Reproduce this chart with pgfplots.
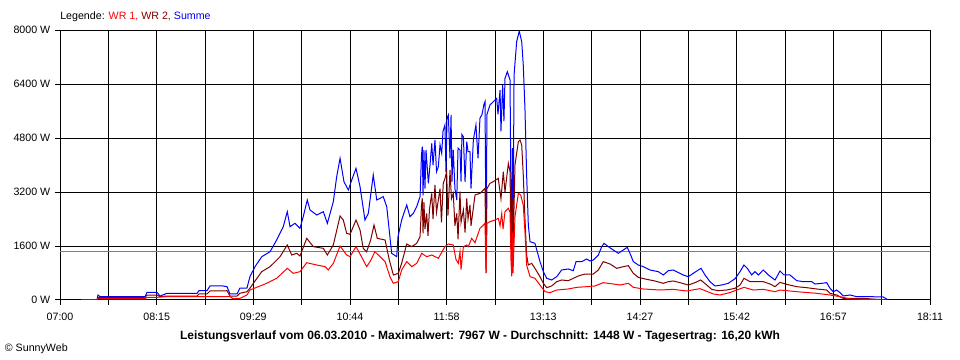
\documentclass[border=0pt]{standalone}
\usepackage{fontspec}
\setmainfont{Liberation Sans}
\usepackage{pgfplots}
\pgfplotsset{compat=1.18}
\definecolor{wrone}{RGB}{255,0,0}
\definecolor{wrtwo}{RGB}{128,0,0}
\definecolor{summe}{RGB}{0,0,255}
\definecolor{avgc}{RGB}{128,128,128}
\begin{document}
\begin{tikzpicture}
\useasboundingbox (0,0) rectangle (720pt,270pt);
\begin{axis}[
 at={(45pt,45pt)}, anchor=south west,
 scale only axis, width=652.5pt, height=202.5pt,
 xmin=0, xmax=671, ymin=0, ymax=8000,
 axis line style={line width=0.75pt},
 xtick={0,37.2778,74.5556,111.8333,149.1111,186.3889,223.6667,260.9444,298.2222,335.5,372.7778,410.0556,447.3333,484.6111,521.8889,559.1667,596.4444,633.7222,671},
 xticklabels={07:00,,08:15,,09:29,,10:44,,11:58,,13:13,,14:27,,15:42,,16:57,,18:11},
 ytick={0,1600,3200,4800,6400,8000},
 yticklabels={0 W,1600 W,3200 W,4800 W,6400 W,8000 W},
 grid=major, grid style={black, line width=0.75pt},
 tick align=outside, major tick length=3.75pt,
 tick style={black, line width=0.75pt},
 xtick pos=lower, ytick pos=left,
 tick label style={font=\fontsize{8}{9.6}\selectfont},
 xticklabel style={yshift=-2.2pt},
 scaled y ticks=false,
 clip=true,
]
\addplot[avgc, line width=0.75pt] coordinates {(0,1448)(671,1448)};
\addplot[summe, line width=0.75pt] coordinates {
(16.2,0)(28.5,0)(29.3,148)(30.9,100)(65.6,100)(67.1,228)(74.8,228)(77.1,118)(82.5,198)(105.7,198)(107.2,276)(113.4,276)(115.7,415)(125.7,415)(128.8,395)(131.1,178)(136.5,178)(138.8,355)(144.2,355)(146.5,691)(150.4,988)(155.6,1283)(162.0,1431)(167.1,1778)(172.2,2173)(175.3,2617)(177.4,2173)(181.2,2272)(185.1,2124)(187.6,2469)(190.7,2963)(192.8,2667)(198.0,2519)(203.1,2617)(206.2,2272)(210.8,2913)(213.4,3654)(216.0,4198)(219.0,3506)(222.4,3259)(225.0,3556)(228.3,3901)(231.4,3358)(235.2,2370)(237.8,2568)(241.6,3704)(244.3,2963)(249.3,3062)(252.0,2765)(255.8,1383)(259.7,1283)(260.7,1877)(263.5,2370)(267.4,2815)(269.9,2469)(272.5,2568)(275.1,2765)(277.7,3062)(278.8,4300)(279.4,4543)(280.0,3100)(280.7,4444)(281.5,3300)(282.3,4444)(284.1,3457)(285.4,4000)(286.7,4642)(287.7,4000)(289.2,4741)(290.4,3800)(291.8,3950)(293.1,4600)(294.4,4346)(295.4,5000)(296.9,5185)(297.7,3800)(298.5,5400)(299.5,5482)(300.8,4200)(301.6,5482)(302.3,3500)(303.3,4444)(304.6,3300)(306.0,2963)(307.0,4500)(308.5,4444)(309.3,3506)(310.0,4900)(311.1,4839)(312.4,3500)(313.7,4691)(314.7,4400)(316.2,4395)(317.0,3300)(318.8,4741)(320.8,5185)(322.4,4200)(323.9,5383)(325.5,5500)(327.0,5800)(327.8,5877)(328.6,1580)(329.3,5500)(331.6,5778)(334.2,5877)(336.8,5975)(337.8,5500)(339.4,6222)(340.1,5000)(341.4,6370)(342.4,5300)(343.2,6568)(345.0,6765)(347.1,6519)(347.8,3000)(348.4,1728)(349.0,4500)(349.4,1800)(350.2,6667)(352.2,7654)(354.2,7967)(356.1,7654)(357.3,6963)(358.6,5679)(359.9,3704)(361.2,2222)(362.5,1728)(366.3,1679)(370.2,1136)(372.8,840)(375.4,642)(379.2,593)(383.1,691)(386.9,889)(392.0,919)(395.9,869)(398.0,1136)(402.4,1136)(406.2,1215)(408.8,1156)(411.3,1185)(415.2,1333)(417.8,1580)(419.6,1679)(422.9,1580)(426.7,1481)(430.6,1383)(434.4,1481)(437.5,1560)(439.6,1383)(442.2,1136)(446.0,1037)(449.9,988)(455.0,889)(461.4,840)(465.3,741)(469.2,869)(473.0,889)(475.6,840)(480.7,741)(484.6,691)(488.4,790)(492.3,889)(494.4,938)(497.5,741)(501.3,543)(505.2,415)(510.3,444)(515.4,494)(520.6,630)(524.5,840)(527.5,1037)(530.1,938)(533.5,741)(536.0,840)(538.6,741)(542.4,889)(546.3,741)(551.5,593)(555.3,859)(558.4,741)(563.0,741)(568.2,573)(573.3,543)(579.8,543)(582.3,474)(587.5,494)(591.3,514)(593.9,346)(596.4,246)(599.0,296)(601.6,217)(604.1,120)(609.3,148)(614.5,99)(624.7,99)(635.0,89)(638.8,0)
};
\addplot[wrtwo, line width=0.75pt] coordinates {
(16.2,0)(28.5,0)(29.3,80)(65.6,80)(67.1,148)(74.8,148)(77.1,100)(82.5,118)(105.7,118)(107.2,178)(113.4,178)(115.7,267)(125.7,267)(128.8,276)(131.1,118)(136.5,118)(138.8,200)(144.2,246)(146.5,350)(149.1,494)(155.6,840)(162.0,988)(169.7,1283)(175.3,1630)(178.7,1333)(182.6,1383)(185.1,1304)(190.3,1827)(195.4,1580)(203.1,1531)(206.2,1333)(210.8,1630)(216.0,2489)(218.5,2370)(221.1,1975)(223.7,1946)(228.3,2370)(231.4,2074)(233.9,1531)(236.5,1431)(239.6,1778)(242.2,2222)(244.7,1827)(250.7,1778)(254.0,1185)(257.1,741)(260.9,790)(263.5,1086)(267.4,1659)(271.3,1580)(275.1,1679)(277.7,1877)(278.8,2800)(279.4,3012)(280.0,1975)(280.7,2900)(281.5,2100)(282.8,2568)(283.8,1900)(285.0,2700)(286.7,3160)(287.7,2400)(289.2,3407)(290.4,2600)(291.8,2963)(293.1,3300)(294.2,2300)(295.6,3457)(296.9,3600)(298.2,3802)(299.2,2500)(300.8,3852)(301.9,3000)(303.3,3160)(304.6,2200)(306.0,2568)(307.0,1800)(308.5,3210)(309.3,2300)(311.1,2667)(312.4,2000)(313.7,3012)(314.7,2400)(316.2,2815)(317.0,2200)(320.1,3111)(323.9,3160)(327.8,3309)(328.6,800)(329.3,3300)(331.6,3457)(334.2,3506)(338.0,3605)(340.1,3000)(341.9,3802)(343.2,3200)(345.8,4049)(347.1,3800)(347.8,1800)(348.4,1333)(349.0,3000)(349.4,1400)(350.9,4000)(353.5,4691)(354.8,4741)(356.1,4593)(357.3,3704)(358.6,2420)(359.9,1333)(361.2,1037)(363.8,1086)(366.3,938)(370.2,691)(372.8,494)(375.4,365)(379.2,415)(383.1,543)(386.9,593)(392.0,573)(395.9,642)(399.7,711)(404.9,770)(411.3,770)(415.2,889)(419.0,1136)(424.2,1067)(429.4,938)(434.4,988)(438.3,1017)(442.2,790)(446.0,672)(452.5,612)(458.9,563)(465.3,494)(469.2,543)(473.0,563)(478.2,514)(484.6,444)(489.8,514)(494.1,593)(498.8,444)(502.6,316)(507.7,276)(514.2,296)(520.6,346)(524.5,444)(527.5,642)(532.2,543)(536.0,543)(542.4,543)(547.6,474)(551.5,395)(555.3,523)(560.5,464)(568.2,395)(575.9,365)(583.6,326)(591.3,296)(593.9,198)(599.0,148)(604.1,49)(619.6,49)(637.6,0)
};
\addplot[wrone, line width=0.75pt] coordinates {
(16.2,0)(28.5,0)(29.3,40)(65.6,40)(67.1,79)(74.8,79)(82.5,99)(131.1,99)(133.4,40)(138.8,49)(144.2,150)(146.5,296)(159.4,494)(167.1,642)(175.3,938)(179.9,790)(185.1,840)(190.3,1106)(198.0,1037)(204.4,988)(206.9,889)(210.8,1086)(216.0,1600)(221.1,1333)(223.7,1283)(228.3,1580)(233.9,1185)(236.5,988)(239.1,1136)(242.9,1431)(248.1,1235)(250.7,1136)(254.5,691)(257.1,494)(260.9,543)(263.5,889)(267.4,1136)(271.3,988)(275.1,1086)(279.0,1383)(282.8,1283)(286.7,1333)(291.8,1235)(296.9,1580)(299.5,1659)(303.3,1630)(305.4,1200)(307.2,1086)(308.5,1431)(309.3,900)(311.1,1580)(313.7,1630)(314.9,1580)(317.5,1827)(320.1,1700)(323.9,2124)(327.8,2272)(328.6,800)(329.3,2272)(331.6,2321)(335.5,2370)(338.0,2420)(339.4,2200)(340.7,2568)(341.7,2100)(343.2,2617)(345.8,2716)(347.1,2600)(347.8,1200)(348.4,700)(349.0,2000)(349.4,800)(350.9,2469)(353.5,3160)(355.3,3111)(357.3,2815)(358.6,2025)(359.9,1037)(362.5,691)(366.3,642)(370.2,444)(374.1,246)(377.9,217)(383.1,296)(392.0,326)(398.5,375)(406.2,395)(412.6,415)(419.0,514)(426.7,474)(431.9,444)(438.3,494)(442.2,375)(449.9,326)(462.8,296)(473.0,316)(483.3,267)(493.6,336)(503.9,178)(509.0,148)(516.7,220)(527.5,375)(534.7,296)(542.4,316)(551.5,246)(555.3,296)(568.2,246)(583.6,198)(593.9,148)(601.6,99)(609.3,30)(637.6,0)
};
\end{axis}
\node[anchor=west, inner sep=0pt, font=\fontsize{8}{9.6}\selectfont] at (45pt,257.5pt)
 {Legende: \textcolor{wrone}{WR 1,} \textcolor{wrtwo}{WR 2,} \textcolor{summe}{Summe}};
\node[anchor=center, inner sep=0pt, font=\fontsize{9}{10.8}\selectfont\bfseries] at (360pt,17.5pt)
 {Leistungsverlauf vom 06.03.2010 - Maximalwert: 7967 W - Durchschnitt: 1448 W - Tagesertrag: 16,20 kWh};
\node[anchor=west, inner sep=0pt, font=\fontsize{8}{9.6}\selectfont] at (3.5pt,8.5pt) {© SunnyWeb};
\end{tikzpicture}
\end{document}
